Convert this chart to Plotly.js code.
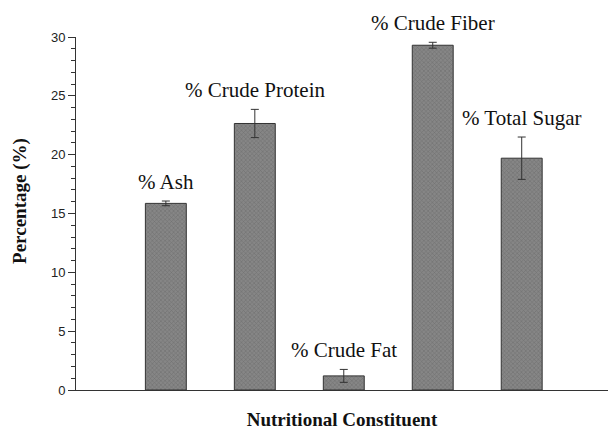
<!DOCTYPE html>
<html>
<head>
<meta charset="utf-8">
<script src="https://cdn.plot.ly/plotly-3.0.1.min.js"></script>
<style>html,body{margin:0;padding:0;background:#fff;}#chart{width:608px;height:430px;}</style>
</head>
<body>
<div id="chart"></div>
<script>
const categories = ["% Ash", "% Crude Protein", "% Crude Fat", "% Crude Fiber", "% Total Sugar"];
const values = [15.86, 22.65, 1.2, 29.3, 19.7];
const errors = [0.2, 1.2, 0.55, 0.25, 1.8];
const yTickVals = [0, 5, 10, 15, 20, 25, 30];

const serif = "'Liberation Serif', 'Times New Roman', serif";

const trace = {
  type: "bar",
  x: categories,
  y: values,
  width: 0.46,
  marker: {
    color: "#868686",
    line: {color: "#333333", width: 1},
    pattern: {shape: "x", size: 3, solidity: 0.35, fgcolor: "#5a5a5a", fillmode: "overlay"}
  },
  error_y: {type: "data", array: errors, visible: true, color: "#333333", thickness: 1, width: 4},
  hoverinfo: "x+y"
};

const annotations = categories.map((c, i) => ({
  x: c, y: values[i] + errors[i], xref: "x", yref: "y",
  text: c, showarrow: false, yanchor: "middle", yshift: 19,
  font: {family: serif, size: 21, color: "#111"}
}));

annotations.push({
  xref: "paper", yref: "paper", x: -0.105, y: 0.536,
  text: "Percentage (%)", textangle: -90, showarrow: false,
  xanchor: "center", yanchor: "middle",
  font: {family: serif, size: 19, color: "#111", weight: "bold"}
});

const layout = {
  width: 608, height: 430,
  margin: {l: 76, r: 0, t: 37, b: 40},
  paper_bgcolor: "#ffffff", plot_bgcolor: "#ffffff",
  showlegend: false,
  xaxis: {
    type: "category",
    range: [-1.01, 4.97],
    showticklabels: false,
    ticks: "",
    showgrid: false, zeroline: false,
    showline: true, linecolor: "#333333", linewidth: 1,
    title: {text: "Nutritional Constituent", standoff: 22,
      font: {family: serif, size: 19, color: "#111", weight: "bold"}}
  },
  yaxis: {
    range: [0, 30],
    tickvals: yTickVals,
    ticks: "outside", ticklen: 7, tickcolor: "#333333", tickwidth: 1,
    minor: {dtick: 1, ticks: "outside", ticklen: 4, tickcolor: "#333333", tickwidth: 1, showgrid: false},
    showgrid: false, zeroline: false,
    showline: true, linecolor: "#333333", linewidth: 1,
    tickfont: {family: "'Liberation Sans', Arial, sans-serif", size: 13, color: "#222"}
  },
  annotations: annotations
};

Plotly.newPlot("chart", [trace], layout, {displayModeBar: false, staticPlot: true});
</script>
</body>
</html>
